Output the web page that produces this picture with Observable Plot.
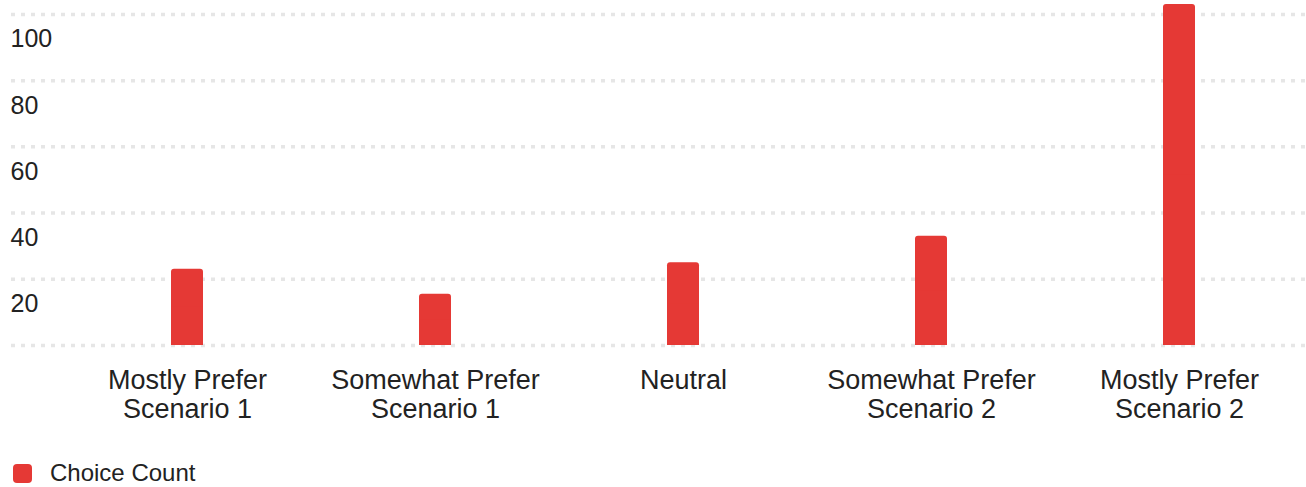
<!DOCTYPE html>
<html>
<head>
<meta charset="utf-8">
<script src="https://cdn.jsdelivr.net/npm/d3@7"></script>
<script src="https://cdn.jsdelivr.net/npm/@observablehq/plot@0.6"></script>
<style>
  html, body { margin: 0; padding: 0; background: #fff; }
  body { width: 1306px; height: 487px; overflow: hidden; font-family: "Liberation Sans", Arial, sans-serif; }
  #legend { position: absolute; left: 13px; top: 459px; display: flex; align-items: center; font-size: 24px; color: #222; }
  #legend .sw { width: 19px; height: 19px; border-radius: 4px; background: #e53935; margin-right: 18px; }
</style>
</head>
<body>
<div id="chart"></div>
<div id="legend"><span class="sw"></span><span>Choice Count</span></div>
<script>
const categories = [
  "Mostly Prefer\nScenario 1",
  "Somewhat Prefer\nScenario 1",
  "Neutral",
  "Somewhat Prefer\nScenario 2",
  "Mostly Prefer\nScenario 2"
];
const choiceCount = [23, 15.5, 25, 33, 103];
const yTicks = [0, 20, 40, 60, 80, 100];
const yTickLabels = ["", "20", "40", "60", "80", "100"];

const data = categories.map((c, i) => ({category: c, value: choiceCount[i]}));
const red = "#e53935";

const chart = Plot.plot({
  width: 1306,
  height: 440,
  marginTop: 4,
  marginBottom: 95,
  marginLeft: 63,
  marginRight: 3,
  style: {fontFamily: "'Liberation Sans', Arial, sans-serif", color: "#222", background: "#fff"},
  x: {domain: categories, paddingInner: 0.871, paddingOuter: 0.4355, label: null, axis: null},
  y: {domain: [0, d3.max(choiceCount)], label: null, axis: null},
  marks: [
    Plot.ruleY(yTicks, {y: d => d, stroke: "#e6e6e6", strokeWidth: 3.5, strokeDasharray: "4,6", insetLeft: -52, insetRight: -3}),
    Plot.barY(data, {x: "category", y: "value", fill: red, rx: 3}),
    Plot.barY(data, {x: "category", y: d => d.value / 2, fill: red}),
    Plot.axisX({tickSize: 0, tickPadding: 24, fontSize: 27, lineHeight: 1.04, label: null}),
    Plot.text(yTicks.map((t, i) => ({t, label: yTickLabels[i]})), {
      y: "t", text: "label", frameAnchor: "left", textAnchor: "start",
      dx: -53, dy: 25, fontSize: 25, fill: "#222"
    })
  ]
});
document.getElementById("chart").appendChild(chart);
</script>
</body>
</html>
